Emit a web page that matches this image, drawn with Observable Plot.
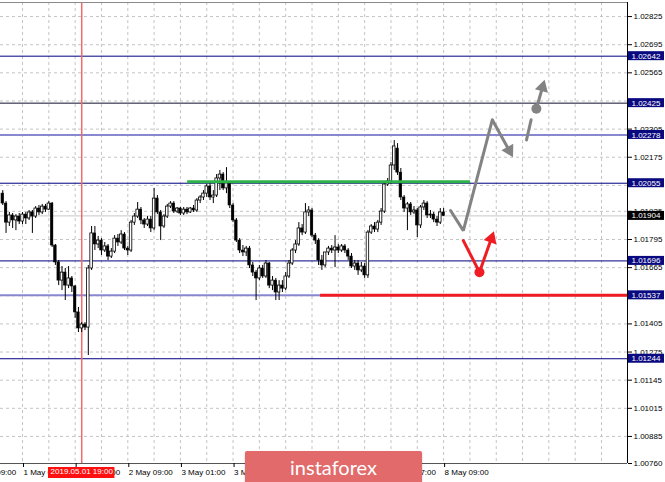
<!DOCTYPE html>
<html><head><meta charset="utf-8">
<script src="https://cdn.jsdelivr.net/npm/d3@7"></script>
<script src="https://cdn.jsdelivr.net/npm/@observablehq/plot@0.6"></script>
<style>
body{margin:0;background:#fff;}
#wrap{position:relative;width:665px;height:482px;overflow:hidden;}
#wm{position:absolute;left:245px;top:451px;width:177px;height:34px;background:#e26a6a;border-radius:2px;color:#fff;font:20px Lato,"Open Sans",sans-serif;text-align:center;line-height:32px;box-shadow:0 1px 2px rgba(0,0,0,0.25);}
</style></head>
<body><div id="wrap"><div id="wm">instaforex</div></div>
<script>
// ---- data (H1 candles, prices) ----
const firstBar = -6; // bars indexed by hours from 1 May 01:00 (weekend skipped)
const open = [
1.02007,1.01961,1.01873,1.01906,1.01883,1.01901,1.01878,1.01910,1.01892,1.01920,
1.01901,1.01938,1.01920,1.01947,1.01933,1.01961,1.01767,1.01689,1.01605,1.01642,
1.01582,1.01615,1.01578,1.01458,1.01384,1.01402,1.01388,1.01661,1.01823,1.01772,
1.01790,1.01744,1.01763,1.01716,1.01739,1.01799,1.01781,1.01818,1.01753,1.01744,
1.01873,1.01901,1.01933,1.01883,1.01864,1.01887,1.01846,1.01984,1.01920,1.01855,
1.01901,1.01947,1.01961,1.01924,1.01938,1.01915,1.01933,1.01920,1.01938,1.01929,
1.01975,1.01989,1.02007,1.02040,1.01989,1.01998,1.02077,1.02095,1.02031,1.02054,
1.01952,1.01883,1.01790,1.01744,1.01735,1.01753,1.01675,1.01642,1.01615,1.01661,
1.01624,1.01684,1.01582,1.01605,1.01550,1.01582,1.01568,1.01624,1.01684,1.01744,
1.01772,1.01846,1.01827,1.01920,1.01929,1.01813,1.01790,1.01698,1.01675,1.01735,
1.01753,1.01744,1.01758,1.01744,1.01763,1.01744,1.01716,1.01670,1.01684,1.01652,
1.01670,1.01629,1.01827,1.01855,1.01841,1.01873,1.01924,1.02049,1.02063,1.02137,
1.02215,1.02104,1.01989,1.01938,1.01957,1.01920,1.01929,1.01860,1.01943,1.01961,
1.01906,1.01910,1.01887,1.01873,1.01920];
const high = [
1.02021,1.01970,1.01920,1.01915,1.01910,1.01915,1.01920,1.01920,1.01929,1.01929,
1.01947,1.01952,1.01957,1.01957,1.01970,1.01966,1.01772,1.01698,1.01670,1.01661,
1.01670,1.01624,1.01582,1.01481,1.01411,1.01411,1.01675,1.01855,1.01855,1.01809,
1.01799,1.01781,1.01772,1.01753,1.01813,1.01818,1.01836,1.01827,1.01763,1.01883,
1.01915,1.01966,1.01943,1.01892,1.01901,1.01901,1.02031,1.01998,1.01929,1.01910,
1.01957,1.01970,1.01970,1.01943,1.01943,1.01943,1.01943,1.01943,1.01952,1.01984,
1.01998,1.02021,1.02049,1.02054,1.02021,1.02095,1.02114,1.02104,1.02127,1.02063,
1.01961,1.01892,1.01799,1.01767,1.01763,1.01763,1.01689,1.01652,1.01675,1.01675,
1.01698,1.01689,1.01624,1.01615,1.01605,1.01605,1.01642,1.01698,1.01753,1.01790,
1.01873,1.01864,1.01961,1.01947,1.01938,1.01823,1.01799,1.01721,1.01735,1.01763,
1.01767,1.01813,1.01772,1.01772,1.01772,1.01753,1.01730,1.01698,1.01698,1.01689,
1.01684,1.01836,1.01864,1.01873,1.01883,1.01938,1.02063,1.02077,1.02151,1.02252,
1.02238,1.02123,1.01998,1.01966,1.01966,1.01947,1.01938,1.01952,1.01975,1.01970,
1.01929,1.01920,1.01901,1.01938,1.01938];
const low = [
1.01952,1.01823,1.01855,1.01846,1.01836,1.01864,1.01864,1.01864,1.01883,1.01823,
1.01892,1.01906,1.01910,1.01920,1.01929,1.01758,1.01675,1.01582,1.01559,1.01513,
1.01568,1.01550,1.01430,1.01365,1.01365,1.01374,1.01259,1.01652,1.01744,1.01753,
1.01721,1.01735,1.01698,1.01707,1.01730,1.01763,1.01772,1.01744,1.01721,1.01735,
1.01860,1.01892,1.01864,1.01846,1.01855,1.01827,1.01836,1.01910,1.01790,1.01846,
1.01892,1.01938,1.01915,1.01915,1.01906,1.01906,1.01910,1.01915,1.01920,1.01920,
1.01961,1.01975,1.01989,1.01975,1.01961,1.01989,1.02021,1.02021,1.02007,1.01938,
1.01873,1.01781,1.01730,1.01716,1.01716,1.01661,1.01624,1.01513,1.01605,1.01615,
1.01615,1.01568,1.01559,1.01513,1.01513,1.01550,1.01559,1.01615,1.01675,1.01730,
1.01763,1.01813,1.01818,1.01901,1.01804,1.01772,1.01675,1.01652,1.01665,1.01721,
1.01730,1.01665,1.01730,1.01735,1.01730,1.01698,1.01661,1.01652,1.01629,1.01642,
1.01615,1.01615,1.01818,1.01827,1.01827,1.01860,1.01915,1.02040,1.02049,1.02114,
1.02091,1.01975,1.01920,1.01836,1.01906,1.01910,1.01804,1.01846,1.01929,1.01892,
1.01892,1.01873,1.01855,1.01864,1.01901];
const close = [
1.01961,1.01873,1.01906,1.01883,1.01901,1.01878,1.01910,1.01892,1.01920,1.01901,
1.01938,1.01920,1.01947,1.01933,1.01961,1.01767,1.01689,1.01605,1.01642,1.01582,
1.01615,1.01578,1.01458,1.01384,1.01402,1.01388,1.01661,1.01823,1.01772,1.01790,
1.01744,1.01763,1.01716,1.01739,1.01799,1.01781,1.01818,1.01753,1.01744,1.01873,
1.01901,1.01933,1.01883,1.01864,1.01887,1.01846,1.01984,1.01920,1.01855,1.01901,
1.01947,1.01961,1.01924,1.01938,1.01915,1.01933,1.01920,1.01938,1.01929,1.01975,
1.01989,1.02007,1.02040,1.01989,1.01998,1.02077,1.02095,1.02031,1.02054,1.01952,
1.01883,1.01790,1.01744,1.01735,1.01753,1.01675,1.01642,1.01615,1.01661,1.01624,
1.01684,1.01582,1.01605,1.01550,1.01582,1.01568,1.01624,1.01684,1.01744,1.01772,
1.01846,1.01827,1.01920,1.01929,1.01813,1.01790,1.01698,1.01675,1.01735,1.01753,
1.01744,1.01758,1.01744,1.01763,1.01744,1.01716,1.01670,1.01684,1.01652,1.01670,
1.01629,1.01827,1.01855,1.01841,1.01873,1.01924,1.02049,1.02063,1.02137,1.02225,
1.02104,1.01989,1.01938,1.01957,1.01920,1.01929,1.01860,1.01943,1.01961,1.01906,
1.01910,1.01887,1.01873,1.01920,1.01904];

const gridPrices = [1.02825,1.02695,1.02565,1.02435,1.02305,1.02175,1.02045,1.01925,1.01795,1.01665,1.01535,1.01405,1.01275,1.01145,1.01015,1.00885,1.00760];
const priceTickLabels = [1.02825,1.02695,1.02565,1.02305,1.02175,1.01925,1.01795,1.01665,1.01405,1.01275,1.01145,1.01015,1.00885,1.00760];
const timeTickBars = [-16,0,16,32,48,64,80,96,112,128];
const timeTickLabels = ["30 Apr 09:00","1 May 01:00","1 May 17:00","2 May 09:00","3 May 01:00","3 May 17:00","6 May 09:00","7 May 01:00","7 May 17:00","8 May 09:00"];

const levelsMain = [1.02642,1.02055,1.01696,1.01244];
const levelsDark = [1.02425];
const levelsLight = [1.02278,1.01537];
const bidPrice = 1.01904;

const markerBar = 18; const markerLabel = "2019.05.01 19:00";
const greenLevel = 1.02062; const greenFrom = 50.2; const greenTo = 136.2;
const redLevel = 1.01537; const redFrom = 90.6;

// forecast sketch, in [bar, price]
const grayPath = [[130.1,1.01929],[134.0,1.01836],[142.8,1.02348]];
const grayTip1 = [149.1,1.02175];
const grayDash = [[153.2,1.02255],[154.6,1.02348]];
const grayDot = [156.2,1.02399]; const grayTip2 = [158.7,1.02533];
const redPath = [[134.0,1.01790],[138.9,1.01644]];
const redTip = [143.3,1.01833];

// ---- build ----
const candles = open.map((o,i)=>({bar:firstBar+i, open:o, high:high[i], low:low[i], close:close[i]}));
const bull = candles.filter(d=>d.close>=d.open);
const bear = candles.filter(d=>d.close<d.open);
const W = 665, H = 482, mL = 0, mR = 38, mT = 2, mB = 19;
const xDomain = [-6.69, 183.9];
const yDomain = [1.00760, 1.02890];
const kx = (W-mL-mR)/(xDomain[1]-xDomain[0]);
const ky = (H-mT-mB)/(yDomain[1]-yDomain[0]);
const gridBars = d3.range(0, 184, 8);
const timeLabel = new Map(timeTickBars.map((b,i)=>[b,timeTickLabels[i]]));
const allLevels = [...levelsMain,...levelsDark,...levelsLight];
const xEnd = xDomain[1];
const GRAY = "#838383", RED = "#f01c24";

// arrow with filled triangular head: line from a to b, head tip at b
const HEAD_R = 5;
function arrowMarks(a, b, color){
  const sx = (b[0]-a[0])*kx, sy = -(b[1]-a[1])*ky;
  const len = Math.hypot(sx, sy), ux = sx/len, uy = sy/len;
  const hy = Math.sqrt(HEAD_R*HEAD_R*Math.PI/(Math.sqrt(3)*3));
  const back = 2*hy; // tip-to-centre distance
  const centre = [b[0]-ux*back/kx, b[1]+uy*back/ky];
  const rot = Math.atan2(ux, -uy)*180/Math.PI;
  return [
    Plot.link([[a,centre]], {x1:d=>d[0][0], y1:d=>d[0][1], x2:d=>d[1][0], y2:d=>d[1][1], stroke:color, strokeWidth:3}),
    Plot.dot([centre], {x:d=>d[0], y:d=>d[1], symbol:"triangle", r:HEAD_R, fill:color, stroke:"none", rotate:rot})
  ];
}

const chart = Plot.plot({
  width:W, height:H,
  marginLeft:mL, marginRight:mR, marginTop:mT, marginBottom:mB,
  x:{type:"linear", domain:xDomain, axis:null},
  y:{type:"linear", domain:yDomain, axis:null},
  style:{fontFamily:"'Liberation Sans', Arial, sans-serif", fontSize:"8px", background:"#fff", color:"#000"},
  marks:[
    Plot.ruleX(gridBars, {stroke:"#c4c4c4", strokeDasharray:"3,3"}),
    Plot.ruleY(gridPrices, {stroke:"#c4c4c4", strokeDasharray:"3,3"}),
    Plot.ruleY([bidPrice], {stroke:"#c8c8c8", strokeWidth:1}),
    Plot.ruleY(levelsMain, {stroke:"#000080", strokeWidth:1}),
    Plot.ruleY(levelsDark, {stroke:"#10102e", strokeWidth:1}),
    Plot.ruleY(levelsLight, {stroke:"#8888d0", strokeWidth:2}),
    Plot.ruleX([markerBar], {stroke:"#f26a6a", strokeWidth:1.5}),
    // candles
    Plot.ruleX(candles, {x:"bar", y1:"low", y2:"high", stroke:"#000", strokeWidth:1}),
    Plot.rect(bear, {x1:d=>d.bar-0.38, x2:d=>d.bar+0.38, y1:"open", y2:"close", fill:"#000", stroke:"#000", strokeWidth:0.6}),
    Plot.rect(bull, {x1:d=>d.bar-0.38, x2:d=>d.bar+0.38, y1:"open", y2:"close", fill:"#fff", stroke:"#000", strokeWidth:0.8}),
    // drawn lines
    Plot.ruleY([greenLevel], {x1:greenFrom, x2:greenTo, stroke:"#2fb24a", strokeWidth:3}),
    Plot.ruleY([redLevel], {x1:redFrom, x2:xEnd, stroke:RED, strokeWidth:3}),
    // forecast arrows
    Plot.line(grayPath, {x:d=>d[0], y:d=>d[1], stroke:GRAY, strokeWidth:3, strokeLinejoin:"miter"}),
    ...arrowMarks(grayPath[2], grayTip1, GRAY),
    Plot.line(grayDash, {x:d=>d[0], y:d=>d[1], stroke:GRAY, strokeWidth:3}),
    Plot.dot([grayDot], {x:d=>d[0], y:d=>d[1], r:5, fill:GRAY}),
    ...arrowMarks(grayDot, grayTip2, GRAY),
    Plot.line(redPath, {x:d=>d[0], y:d=>d[1], stroke:RED, strokeWidth:3}),
    ...arrowMarks(redPath[1], redTip, RED),
    Plot.dot([redPath[1]], {x:d=>d[0], y:d=>d[1], r:5, fill:RED}),
    // frame lines
    Plot.ruleY([yDomain[1]], {stroke:"#8a8a8a"}),
    Plot.ruleY([yDomain[0]], {stroke:"#555"}),
    Plot.ruleX([xEnd], {stroke:"#000"}),
    // axes
    Plot.axisY(priceTickLabels, {anchor:"right", label:null, tickSize:4, tickPadding:2, tickFormat:d=>d.toFixed(5), fill:"#000", stroke:"#000"}),
    Plot.axisX(timeTickBars, {anchor:"bottom", label:null, tickSize:4, tickPadding:2, tickFormat:d=>timeLabel.get(d), textAnchor:"start", dx:1, fill:"#000", stroke:"#000"}),
    // level price labels
    Plot.rect(allLevels, {x1:()=>xEnd, x2:()=>xEnd, y1:d=>d, y2:d=>d, insetLeft:1, insetRight:-37, insetTop:-4.5, insetBottom:-4.5, fill:"#0a0a80"}),
    Plot.text(allLevels, {x:()=>xEnd, y:d=>d, dx:4, textAnchor:"start", text:d=>d.toFixed(5), fill:"#fff"}),
    Plot.rect([bidPrice], {x1:()=>xEnd, x2:()=>xEnd, y1:d=>d, y2:d=>d, insetLeft:1, insetRight:-37, insetTop:-4.5, insetBottom:-4.5, fill:"#000"}),
    Plot.text([bidPrice], {x:()=>xEnd, y:d=>d, dx:4, textAnchor:"start", text:d=>d.toFixed(5), fill:"#fff"}),
    // time marker label
    Plot.rect([markerBar], {x1:d=>d-10.1, x2:d=>d+10.1, y1:()=>yDomain[0], y2:()=>yDomain[0], insetTop:4, insetBottom:-15, fill:"#ff1010"}),
    Plot.text([markerLabel], {x:()=>markerBar, frameAnchor:"bottom", dy:10, text:d=>d, fill:"#fff"})
  ]
});
document.getElementById("wrap").prepend(chart);
</script>
</body></html>
